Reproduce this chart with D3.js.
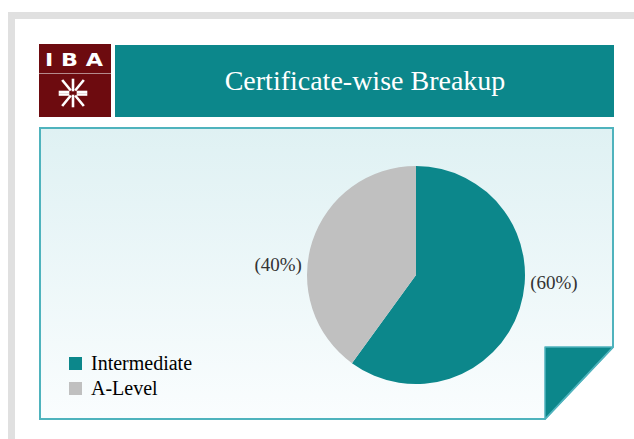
<!DOCTYPE html>
<meta charset="utf-8">
<style>
body { margin: 0; background: #fff; }
svg { display: block; font-family: "Liberation Serif", "DejaVu Serif", serif; }
</style>
<body>
<div id="chart"></div>
<script src="https://d3js.org/d3.v7.min.js"></script>
<script>
var title = "Certificate-wise Breakup";
var categories = ["Intermediate", "A-Level"];
var values = [60, 40];
var labels = ["(60%)", "(40%)"];
var colors = ["#0c878b", "#c0c0c0"];

var W = 634, H = 439;
var svg = d3.select("#chart").append("svg")
    .attr("width", W).attr("height", H);

var defs = svg.append("defs");
var grad = defs.append("linearGradient")
    .attr("id", "panelGrad").attr("x1", 0).attr("y1", 0).attr("x2", 0).attr("y2", 1);
grad.append("stop").attr("offset", "0%").attr("stop-color", "#dff1f3");
grad.append("stop").attr("offset", "100%").attr("stop-color", "#fafdfe");

// grey page frame
svg.append("rect").attr("x", 8).attr("y", 12).attr("width", W - 8).attr("height", 7).attr("fill", "#e0e0e0");
svg.append("rect").attr("x", 8).attr("y", 12).attr("width", 7).attr("height", H - 12).attr("fill", "#e0e0e0");

// logo
var logo = svg.append("g").attr("transform", "translate(39,44)");
logo.append("rect").attr("width", 72).attr("height", 73).attr("fill", "#6d0b0f");
logo.append("line").attr("x1", 0).attr("x2", 72).attr("y1", 29.5).attr("y2", 29.5)
    .attr("stroke", "#b58a8c").attr("stroke-width", 1);
logo.append("text").attr("x", 6).attr("y", 21.5)
    .attr("fill", "#fff")
    .attr("textLength", 58).attr("lengthAdjust", "spacingAndGlyphs")
    .style("font-family", "'DejaVu Sans', sans-serif").style("font-weight", "bold")
    .style("font-size", "18px")
    .text("I B A");
// converging arrows symbol
var sym = logo.append("g").attr("transform", "translate(34,49)")
    .attr("stroke", "#fff").attr("stroke-width", 2.6).attr("fill", "none")
    .attr("stroke-linecap", "square");
var rays = [[0, -13, 0, -3], [-10, -12, -3, -3.5], [10, -12, 3, -3.5],
            [0, 13, 0, 3], [-10, 12, -3, 3.5], [10, 12, 3, 3.5],
            [-13, -1, -5, -1], [13, -1, 5, -1], [-13, 1.5, -5, 1.5], [13, 1.5, 5, 1.5]];
rays.forEach(function(r) {
  sym.append("line").attr("x1", r[0]).attr("y1", r[1]).attr("x2", r[2]).attr("y2", r[3]);
});

// title banner
svg.append("rect").attr("x", 115).attr("y", 45).attr("width", 499).attr("height", 72).attr("fill", "#0c878b");
svg.append("text").attr("x", 365).attr("y", 90)
    .attr("text-anchor", "middle").attr("fill", "#fff")
    .style("font-size", "28px")
    .text(title);

// chart panel with folded corner
var px0 = 40, py0 = 128, px1 = 613, py1 = 419, fx = 545, fy = 347;
svg.append("path")
    .attr("d", "M" + px0 + "," + py0 + "H" + px1 + "V" + fy + "L" + fx + "," + py1 + "H" + px0 + "Z")
    .attr("fill", "url(#panelGrad)")
    .attr("stroke", "#4fb3bd").attr("stroke-width", 2);
svg.append("path")
    .attr("d", "M" + fx + "," + fy + "H" + px1 + "L" + fx + "," + py1 + "Z")
    .attr("fill", "#0c878b").attr("stroke", "#4fb3bd").attr("stroke-width", 1.5)
    .attr("stroke-linejoin", "round");

// pie
var cx = 416, cy = 275, R = 109;
var pie = d3.pie().sort(null).value(function(d) { return d; });
var arc = d3.arc().innerRadius(0).outerRadius(R);
var labelArc = d3.arc().innerRadius(120).outerRadius(120);
var arcs = pie(values);

var g = svg.append("g").attr("transform", "translate(" + cx + "," + cy + ")");
g.selectAll("path.slice").data(arcs).enter().append("path")
    .attr("class", "slice")
    .attr("d", arc)
    .attr("fill", function(d, i) { return colors[i]; });

g.selectAll("text.lbl").data(arcs).enter().append("text")
    .attr("class", "lbl")
    .attr("x", function(d) { return labelArc.centroid(d)[0]; })
    .attr("y", function(d) { return labelArc.centroid(d)[1] * 0.25 + 5; })
    .attr("text-anchor", function(d) { return labelArc.centroid(d)[0] > 0 ? "start" : "end"; })
    .attr("fill", "#333")
    .style("font-size", "19px")
    .text(function(d, i) { return labels[i]; });

// legend
var legend = svg.append("g").attr("transform", "translate(69,357)");
var item = legend.selectAll("g").data(categories).enter().append("g")
    .attr("transform", function(d, i) { return "translate(0," + (i * 25) + ")"; });
item.append("rect").attr("width", 13).attr("height", 13)
    .attr("fill", function(d, i) { return colors[i]; });
item.append("text").attr("x", 22).attr("y", 13)
    .attr("fill", "#000").style("font-size", "20px")
    .text(function(d) { return d; });
</script>
</body>
